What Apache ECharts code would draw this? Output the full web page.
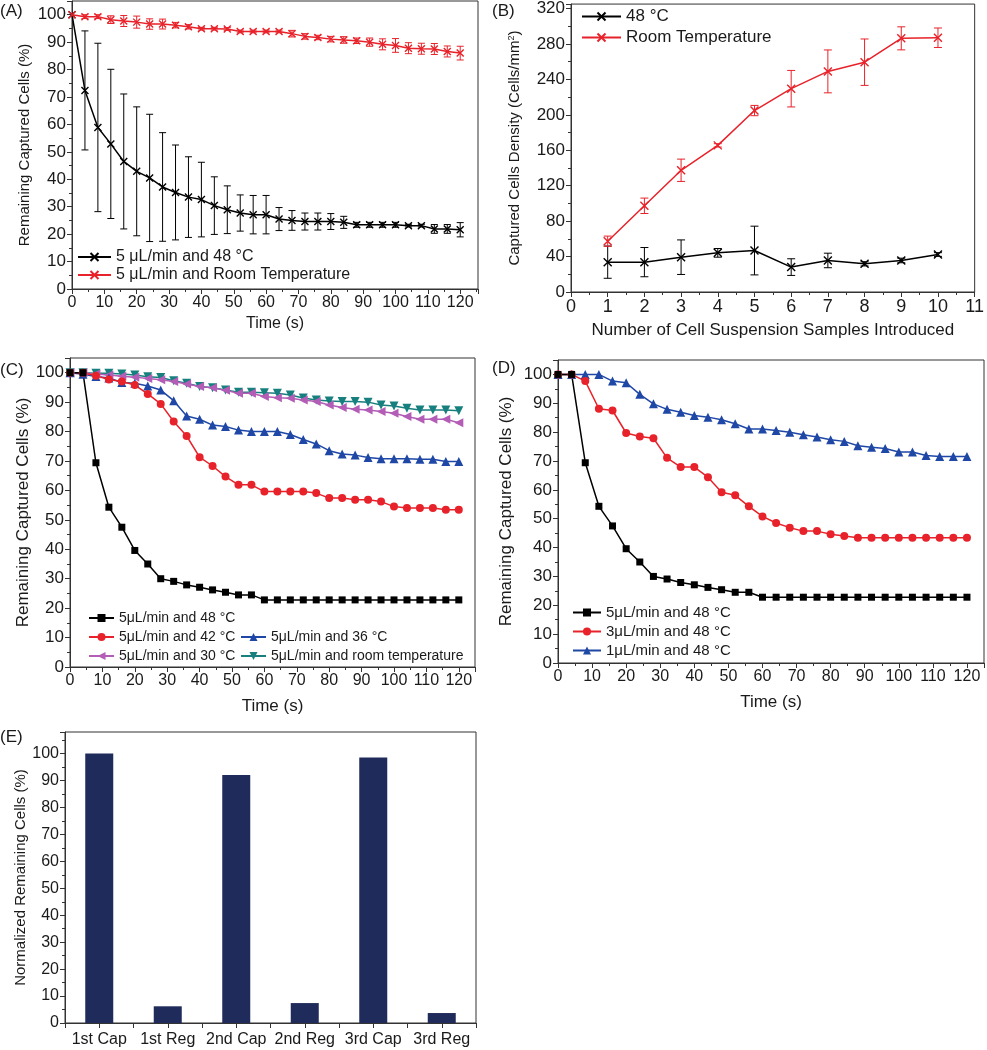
<!DOCTYPE html>
<html><head><meta charset="utf-8">
<script src="https://cdn.jsdelivr.net/npm/echarts@6/dist/echarts.min.js"></script>
<style>html,body{margin:0;padding:0;background:#fff}#c{width:987px;height:1050px}</style>
</head><body><div id="c"></div>
<script>
// ---------- DATA ----------
const timeS = [0,4,8,12,16,20,24,28,32,36,40,44,48,52,56,60,64,68,72,76,80,84,88,92,96,100,104,108,112,116,120];

// Panel A
const aHot = [100,72.4,58.9,52.9,46.5,42.9,40.5,37.2,35.2,33.5,32.6,30.4,28.9,27.7,27.1,27.1,25.5,25,24.6,24.6,24.6,24.3,23.4,23.4,23.4,23.4,23.1,23.1,21.9,21.9,21.6];
const aHotErr = [0,21.7,30.7,27.2,24.6,23.5,23.2,19.8,17.3,14.7,13.6,10.5,8.7,6.6,7,7,4.2,3.6,3.1,3.1,2.9,2.2,0.9,0.9,0.9,0.9,0.5,0.5,1.6,1.6,2.6];
const aRoom = [100,99.3,99.3,98.2,97.7,97.3,96.6,96.6,96.2,95.6,94.9,94.9,94.8,93.9,93.9,93.9,93.9,93.1,92.1,91.7,91.1,90.8,90.5,90,89.2,88.8,87.8,87.6,87.5,86.6,86];
const aRoomErr = [0,0.7,0.7,1.4,2,2.2,1.9,1.8,1,0.8,0.5,0.5,0.5,0.5,0.5,0.5,0.5,1.2,1,0.8,1,1.2,1,1.5,2,2.5,2,2,2,2,2.5];
const aNames = ['5 μL/min and 48 °C','5 μL/min and Room Temperature'];

// Panel B
const bSamples = [1,2,3,4,5,6,7,8,9,10];
const bHot = [33.7,33.7,39.3,44.2,46.8,28.1,35.6,31.8,35.6,42.3];
const bHotErr = [18.2,16.5,19.5,4.9,27.5,9.4,8.2,2.4,2.6,2.1];
const bRoom = [57.3,97.3,137.4,165.5,204.8,229.5,249,259.4,286.3,287];
const bRoomErr = [5.8,8.7,12.6,1.9,5.8,20.6,24.2,26.2,13,11];
const bNames = ['48 °C','Room Temperature'];

// Panel C
const c48 = [100,100,69.4,54.3,47.5,39.6,35,30,29.1,27.9,27.1,26.2,25.4,24.5,24.5,22.8,22.8,22.8,22.8,22.8,22.8,22.8,22.8,22.8,22.8,22.8,22.8,22.8,22.8,22.8,22.8];
const c42 = [100,100,99,97.7,97,95.8,92.8,89.4,83.4,78.5,71.3,68.3,64.7,61.9,61.9,59.6,59.6,59.6,59.6,59.1,57.4,57.4,56.8,56.8,56.2,54.5,54,54,54,53.4,53.4];
const c36 = [100,99.5,98.7,98.2,96.7,96.4,95.5,94.1,90.5,85.3,84.2,82.2,81.7,80.5,80,80,80,79,77.3,75.8,73.5,72.4,72,71.2,70.8,70.8,70.8,70.6,70.6,69.8,69.8];
const c30 = [100,100,99.6,99.2,98.8,98.5,98,97.6,97,96.2,95.3,94.9,94,93,93,91.9,91.5,91.3,90.7,90.2,89,88.2,87.6,87.3,86.8,86.2,85.1,84.2,84.2,84.2,83];
const cRoom = [100,100,99.8,99.8,99.6,99.2,98.6,98.4,97.3,96.4,95.3,94.9,94.1,93.4,93.4,93.2,93,92.4,91.4,90.7,90.4,90.2,90.2,90,89,88.7,87.9,87.3,87.3,87.3,87.1];
const cNames = ['5μL/min and 48 °C','5μL/min and 42 °C','5μL/min and 36 °C','5μL/min and 30 °C','5μL/min and room temperature'];

// Panel D
const d5 = [100,100,69.4,54.3,47.5,39.6,35,30,29.1,27.9,27.1,26.2,25.4,24.5,24.5,22.8,22.8,22.8,22.8,22.8,22.8,22.8,22.8,22.8,22.8,22.8,22.8,22.8,22.8,22.8,22.8];
const d3 = [100,100,97.7,88.1,87.5,79.7,78.5,77.9,71.1,67.9,67.9,64.4,59.2,58.1,54.3,50.8,48.5,46.9,45.7,45.7,44.6,44,43.4,43.4,43.4,43.4,43.4,43.4,43.4,43.4,43.4];
const d1 = [100,100,100,100,97.7,97.1,93.1,89.8,87.9,86.9,85.8,85.2,84.3,82.9,81.1,81.1,80.6,80,79.1,78.3,77.4,76.8,75.3,74.8,74.3,73.1,73.1,71.9,71.6,71.6,71.6];
const dNames = ['5μL/min and 48 °C','3μL/min and 48 °C','1μL/min and 48 °C'];

// Panel E
const eCats = ['1st Cap','1st Reg','2nd Cap','2nd Reg','3rd Cap','3rd Reg'];
const eVals = [100,6.2,92,7.4,98.5,3.7];

// ---------- STYLE / BUILD ----------
const FONT = "'Liberation Sans', Arial, sans-serif";
const TXT = '#1a1a1a';
const AX = '#333';
const RED = '#e8222a', BLUE = '#1e47a6', MAG = '#b35db6', TEAL = '#17807f', NAVY = '#1f2b5b';
const CROSS = 'path://M0,0L10,10M0,10L10,0';

function valAxis(grid, min, max, interval, fs, name, nameGap, nameFs, extra) {
  const ax = {
    type: 'value', gridIndex: grid, min: min, max: max, interval: interval,
    splitLine: {show: false},
    axisLine: {show: true, onZero: false, lineStyle: {color: AX, width: 1}},
    axisTick: {show: true, length: 5, lineStyle: {color: AX}},
    minorTick: {show: true, splitNumber: 2, length: 3, lineStyle: {color: AX}},
    axisLabel: {color: TXT, fontFamily: FONT, fontSize: fs, margin: 6,
      formatter: v => (Math.abs(v / interval - Math.round(v / interval)) < 1e-6 ? String(v) : '')},
    name: name, nameLocation: 'middle', nameGap: nameGap,
    nameTextStyle: {color: TXT, fontFamily: FONT, fontSize: nameFs}
  };
  return Object.assign(ax, extra || {});
}

function pairs(xs, ys) { return xs.map((x, i) => [x, ys[i]]); }

function lineSeries(name, gi, xs, ys, color, symbol, size, rotate) {
  const isCross = symbol === CROSS;
  return {
    type: 'line', name: name, xAxisIndex: gi, yAxisIndex: gi, data: pairs(xs, ys),
    symbol: symbol, symbolSize: size, symbolRotate: rotate || 0, showAllSymbol: true,
    lineStyle: {color: color, width: 1.5},
    itemStyle: {color: color, borderColor: color, borderWidth: isCross ? 1.4 : 0},
    z: 3
  };
}

function errSeries(gi, xs, ys, es, color, cap) {
  return {
    type: 'custom', xAxisIndex: gi, yAxisIndex: gi, z: 2, silent: true,
    data: xs.map((x, i) => [x, ys[i] - es[i], ys[i] + es[i]]).filter((d, i) => es[i] > 0),
    encode: {x: 0, y: [1, 2]},
    renderItem: function (params, api) {
      const x = api.value(0);
      const lo = api.coord([x, api.value(1)]);
      const hi = api.coord([x, api.value(2)]);
      const st = {stroke: color, lineWidth: 1};
      return {type: 'group', children: [
        {type: 'line', shape: {x1: lo[0], y1: lo[1], x2: hi[0], y2: hi[1]}, style: st},
        {type: 'line', shape: {x1: lo[0] - cap, y1: lo[1], x2: lo[0] + cap, y2: lo[1]}, style: st},
        {type: 'line', shape: {x1: hi[0] - cap, y1: hi[1], x2: hi[0] + cap, y2: hi[1]}, style: st}
      ]};
    }
  };
}

function legend(left, top, data, fs, iw, gap) {
  return {left: left, top: top, orient: 'vertical', padding: 0, itemWidth: iw, itemHeight: 10,
    itemGap: gap, data: data, selectedMode: false,
    textStyle: {color: TXT, fontFamily: FONT, fontSize: fs}};
}

const gridBox = {show: true, borderColor: AX, borderWidth: 1, backgroundColor: 'transparent'};

const option = {
  animation: false,
  backgroundColor: '#fff',
  textStyle: {fontFamily: FONT},
  grid: [
    Object.assign({left: 72, top: 1, width: 406, height: 288}, gridBox),
    Object.assign({left: 571, top: 3, width: 405, height: 289}, gridBox),
    Object.assign({left: 70, top: 358, width: 405, height: 309}, gridBox),
    Object.assign({left: 558, top: 360, width: 427, height: 303}, gridBox),
    Object.assign({left: 65, top: 732, width: 411, height: 291}, gridBox)
  ],
  xAxis: [
    valAxis(0, 0, 125.5, 10, 16, 'Time (s)', 27, 16),
    valAxis(1, 0, 11, 1, 18, 'Number of Cell Suspension Samples Introduced', 30, 17),
    valAxis(2, 0, 125, 10, 16, 'Time (s)', 31, 17),
    valAxis(3, 0, 125, 10, 16, 'Time (s)', 31, 17),
    {type: 'category', gridIndex: 4, data: eCats, position: 'bottom', offset: 0,
      axisLine: {show: true, lineStyle: {color: AX}},
      axisTick: {show: true, length: 5, alignWithLabel: false, interval: 0, lineStyle: {color: AX}},
      axisLabel: {color: TXT, fontFamily: FONT, fontSize: 16, margin: 9, interval: 0}},
    {type: 'category', gridIndex: 4, data: eCats, position: 'bottom', offset: 0,
      axisLine: {show: false},
      axisTick: {show: true, length: 5, alignWithLabel: true, interval: 0, lineStyle: {color: AX}},
      axisLabel: {show: false}}
  ],
  yAxis: [
    valAxis(0, 0, 105, 10, 17, 'Remaining Captured Cells (%)', 40, 15),
    valAxis(1, 0, 325, 40, 17, 'Captured Cells Density (Cells/mm{s|2})', 49, 15,
      {nameTextStyle: {color: TXT, fontFamily: FONT, fontSize: 15,
        rich: {s: {fontSize: 9, verticalAlign: 'top', color: TXT, fontFamily: FONT}}}}),
    valAxis(2, 0, 105, 10, 17, 'Remaining Captured Cells (%)', 37, 17),
    valAxis(3, 0, 105, 10, 17, 'Remaining Captured Cells (%)', 43, 17),
    valAxis(4, 0, 108, 10, 16, 'Normalized Remaining Cells (%)', 37, 15)
  ],
  legend: [
    legend(77, 249, aNames, 16, 33, 2),
    legend(581, 8, bNames, 17, 39, 4),
    legend(88, 611, [cNames[0], cNames[1], cNames[3]], 14, 25, 5),
    legend(240, 630, [cNames[2], cNames[4]], 14, 25, 5),
    legend(572, 605, dNames, 15, 28, 4)
  ],
  graphic: [
    {type: 'text', left: 0, top: 3, style: {text: '(A)', font: "17px 'Liberation Sans'", fill: TXT}},
    {type: 'text', left: 492, top: 3, style: {text: '(B)', font: "17px 'Liberation Sans'", fill: TXT}},
    {type: 'text', left: 0, top: 362, style: {text: '(C)', font: "17px 'Liberation Sans'", fill: TXT}},
    {type: 'text', left: 492, top: 360, style: {text: '(D)', font: "17px 'Liberation Sans'", fill: TXT}},
    {type: 'text', left: 0, top: 729, style: {text: '(E)', font: "17px 'Liberation Sans'", fill: TXT}}
  ],
  series: [
    // A
    errSeries(0, timeS, aHot, aHotErr, '#000', 3.5),
    errSeries(0, timeS, aRoom, aRoomErr, RED, 3.5),
    lineSeries(aNames[0], 0, timeS, aHot, '#000', CROSS, 7),
    lineSeries(aNames[1], 0, timeS, aRoom, RED, CROSS, 7),
    // B
    errSeries(1, bSamples, bHot, bHotErr, '#000', 4),
    errSeries(1, bSamples, bRoom, bRoomErr, RED, 4),
    lineSeries(bNames[0], 1, bSamples, bHot, '#000', CROSS, 8),
    lineSeries(bNames[1], 1, bSamples, bRoom, RED, CROSS, 8),
    // C
    lineSeries(cNames[4], 2, timeS, cRoom, TEAL, 'triangle', 9, 180),
    lineSeries(cNames[3], 2, timeS, c30, MAG, 'triangle', 9, 90),
    lineSeries(cNames[2], 2, timeS, c36, BLUE, 'triangle', 9),
    lineSeries(cNames[1], 2, timeS, c42, RED, 'circle', 8),
    lineSeries(cNames[0], 2, timeS, c48, '#000', 'rect', 7),
    // D
    lineSeries(dNames[2], 3, timeS, d1, BLUE, 'triangle', 9),
    lineSeries(dNames[1], 3, timeS, d3, RED, 'circle', 8),
    lineSeries(dNames[0], 3, timeS, d5, '#000', 'rect', 7),
    // E
    {type: 'bar', xAxisIndex: 4, yAxisIndex: 4, data: eVals, barWidth: 28,
      itemStyle: {color: NAVY}}
  ]
};

const chart = echarts.init(document.getElementById('c'), null, {renderer: 'canvas'});
chart.setOption(option);
</script>
</body></html>
